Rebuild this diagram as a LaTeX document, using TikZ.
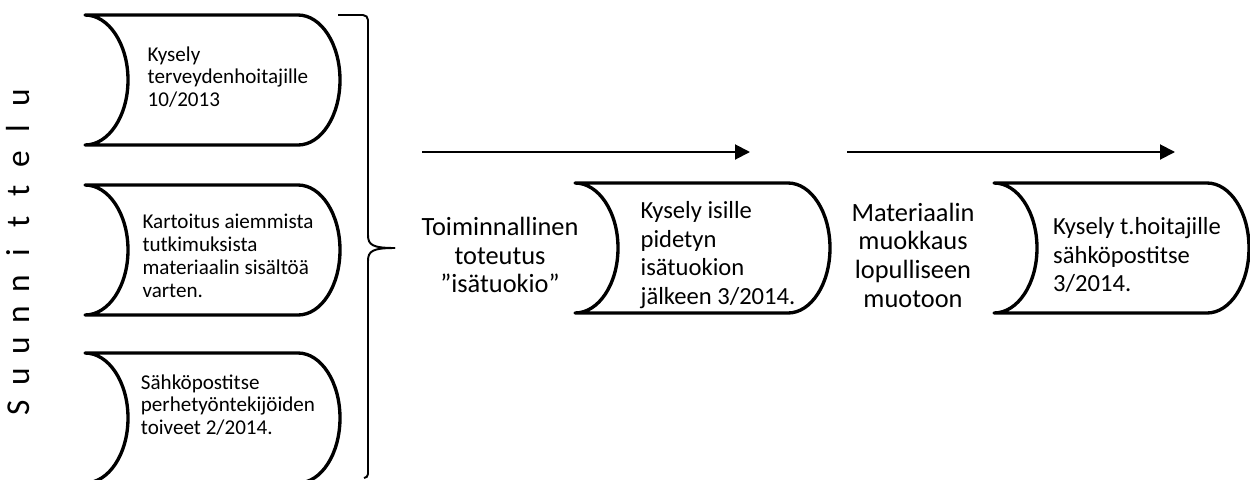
\documentclass[tikz,border=0pt]{standalone}
\usepackage{fontspec}
\setmainfont{Carlito}
\usepackage{tikz}
\usetikzlibrary{arrows.meta,positioning,calc}
\newcommand{\wideletter}[1]{\makebox[0.62cm]{#1}}

\begin{document}
\begin{tikzpicture}[
  stored/.style={align=left, inner sep=0pt, font=\fontsize{12}{13}\selectfont},
  storedbig/.style={stored, font=\fontsize{14}{16.3}\selectfont},
  phase/.style={align=center, inner sep=0pt, font=\fontsize{15}{16.3}\selectfont},
  outline/.style={line width=1.9pt, line join=round},
  brace/.style={line width=1.1pt},
  arr/.style={line width=1.1pt, -{Triangle[length=0.3cm,width=0.3cm]}}
]
  \clip (0,0) rectangle (25,-9.58);

  % suunnittelu
  \node[rotate=90, anchor=base, inner sep=0pt, font=\fontsize{19}{20}\selectfont] (su) at (0.58,-5.05)
    {\wideletter{S}\wideletter{u}\wideletter{u}\wideletter{n}\wideletter{n}\wideletter{i}\wideletter{t}\wideletter{t}\wideletter{e}\wideletter{l}\wideletter{u}};
  \node[stored] (k1) at (4.56,-1.54) {Kysely\\terveydenhoitajille\\10/2013};
  \node[stored, below=3.58cm of k1.center, anchor=center] (k2) {Kartoitus aiemmista\\tutkimuksista\\materiaalin sisältöä\\varten.};
  \node[stored, below=2.98cm of k2.center, anchor=center] (k3) {Sähköpostitse\\perhetyöntekijöiden\\toiveet 2/2014.};

  % toteutus
  \node[storedbig] (k4) at (14.36,-5.1) {Kysely isille\\pidetyn\\isätuokion\\jälkeen 3/2014.};
  \node[storedbig, right=8.38cm of k4.center, anchor=center] (k5) {Kysely t.hoitajille\\sähköpostitse\\3/2014.};
  \node[phase, left=4.36cm of k4.center, anchor=center] (t1) {Toiminnallinen\\toteutus\\”isätuokio”};
  \node[phase, left=4.48cm of k5.center, anchor=center] (m1) {Materiaalin\\muokkaus\\lopulliseen\\muotoon};

  \foreach \n/\dy in {k1/-0.06,k2/0.12,k3/-0.26,k4/0.14,k5/0.14}
    \draw[outline] ([shift={(-2.86,1.3+\dy)}]\n.center) -- ([shift={(1.40,1.3+\dy)}]\n.center)
      arc[start angle=90, end angle=-90, x radius=0.84, y radius=1.3]
      -- ([shift={(-2.86,-1.3+\dy)}]\n.center)
      arc[start angle=-90, end angle=90, x radius=0.86, y radius=1.3] -- cycle;

  % brace
  \draw[brace] (6.76,-0.3) -- (7.26,-0.3) to[out=0,in=90] (7.36,-0.4) -- (7.36,-4.7)
    .. controls (7.36,-4.9) and (7.45,-4.96) .. (7.9,-4.96);
  \draw[brace] (7.9,-4.96) .. controls (7.45,-4.96) and (7.36,-5.02) .. (7.36,-5.22)
    -- (7.36,-9.48) to[out=-90,in=0] (7.28,-9.56);

  \coordinate (a1s) at (8.44,-3.04);
  \coordinate (a1e) at (15.0,-3.04);
  \coordinate (a2s) at (16.94,-3.04);
  \coordinate (a2e) at (23.5,-3.04);
  \draw[arr] (a1s) -- (a1e);
  \draw[arr] (a2s) -- (a2e);
\end{tikzpicture}
\end{document}
